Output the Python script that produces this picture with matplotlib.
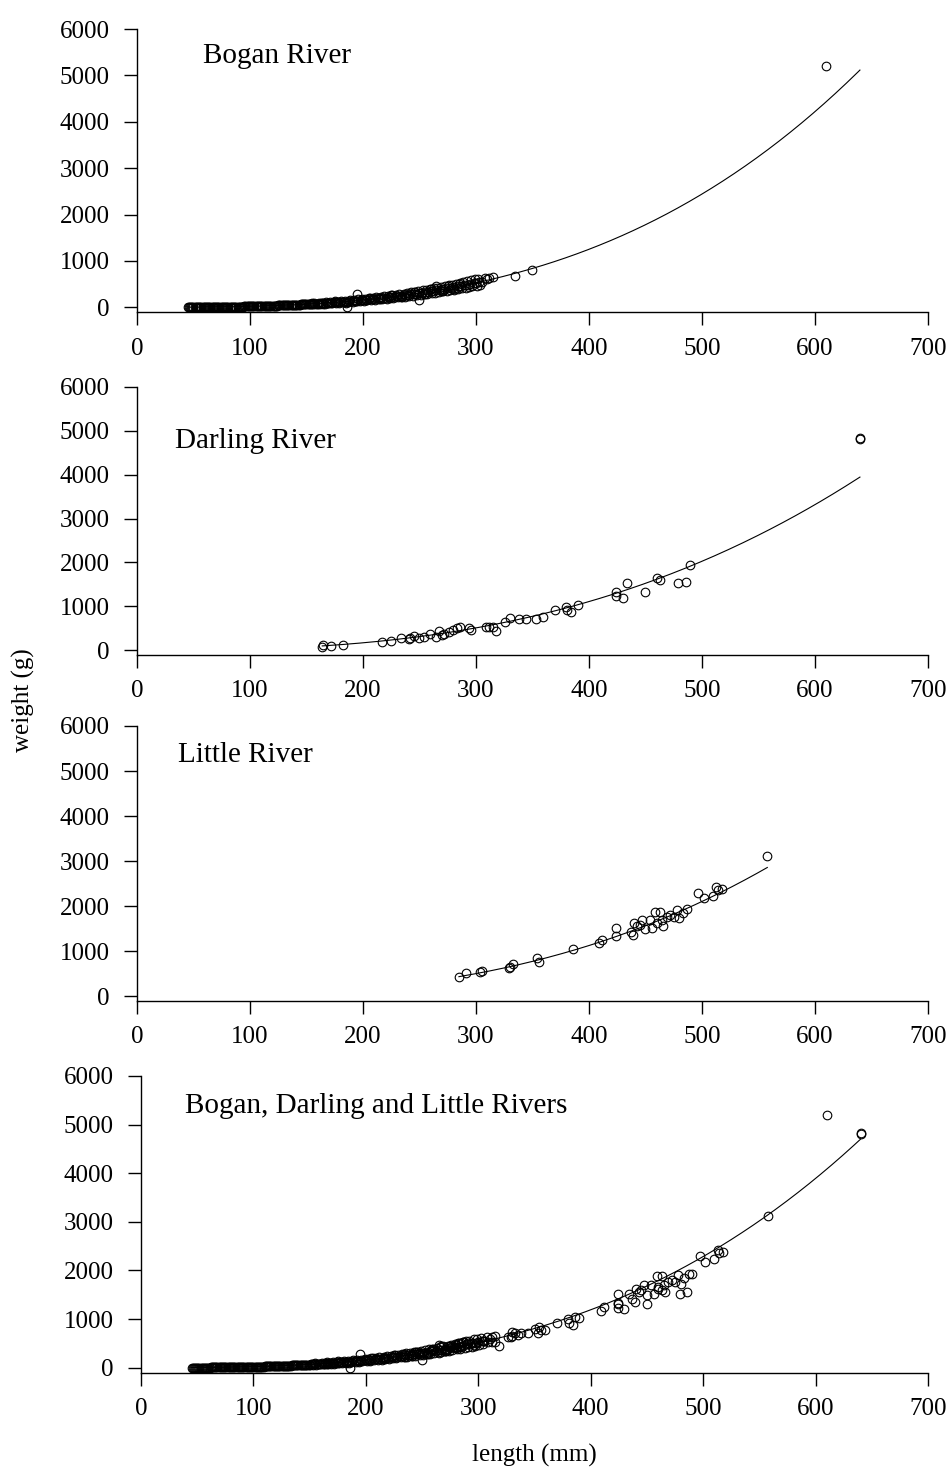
import numpy as np
import matplotlib
matplotlib.use('Agg')
import matplotlib.pyplot as plt

plt.rcParams['font.family'] = ['Liberation Serif', 'DejaVu Serif']

# Bogan River (length mm, weight g)
bogan_len = [45, 47, 49, 50, 52, 54, 55, 57, 58, 60, 62, 63, 65, 67, 68, 70, 72, 74, 75, 77,
             79, 80, 82, 84, 85, 87, 89, 90, 92, 94, 95, 97, 99, 100, 102, 104, 105, 107, 109, 110,
             112, 114, 115, 117, 119, 120, 122, 124, 125, 128, 130, 132, 135, 137, 140, 142, 145, 147, 150, 152,
             155, 158, 160, 163, 165, 168, 170, 173, 175, 178, 180, 183, 185, 186, 188, 190, 193, 195, 195, 198,
             200, 203, 205, 208, 210, 213, 215, 218, 220, 223, 225, 228, 230, 233, 235, 238, 240, 242, 245, 247,
             250, 250, 252, 255, 258, 260, 262, 265, 265, 268, 270, 272, 275, 278, 280, 283, 285, 287, 290, 293,
             295, 298, 300, 303, 305, 308, 310, 312, 315, 335, 350, 610,
             155, 165, 175, 185, 205, 215, 225, 235, 245, 255, 260, 270, 275, 280, 285,
             46, 48, 51, 53, 56, 59, 61, 64, 66, 69, 71, 73, 76, 78, 81, 83, 86, 88, 91, 93,
             96, 98, 101, 103, 106, 108, 111, 113, 116, 118, 121, 123, 126, 127, 129, 131, 133, 134, 136, 138,
             139, 141, 143, 144, 146, 148, 149, 151, 153, 154, 156, 157, 159, 161, 162, 164, 166, 167, 169, 171,
             172, 174, 176, 177, 179, 181, 182, 184, 187, 189, 191, 192, 194, 196, 197, 199, 201, 202, 204, 206,
             207, 209, 211, 212, 214, 216, 217, 219, 221, 222, 224, 226, 227, 229, 231, 232, 234, 236, 237, 239,
             241, 243, 244, 246, 248, 249, 251, 253, 254, 256, 257, 259, 261, 263, 264, 266, 267, 269, 271, 273,
             274, 276, 277, 279, 281, 282, 284, 286, 288, 289, 291, 292, 294, 296, 297, 299, 301, 302, 304]
bogan_wt = [2, 2, 3, 2, 3, 3, 4, 4, 4, 4, 5, 5, 5, 6, 6, 7, 7, 8, 8, 9,
            10, 10, 11, 12, 12, 13, 14, 14, 15, 16, 17, 18, 19, 20, 21, 22, 23, 24, 25, 26,
            27, 29, 30, 31, 33, 34, 36, 37, 38, 41, 43, 45, 48, 50, 54, 56, 60, 62, 66, 69,
            73, 77, 80, 85, 88, 93, 96, 101, 105, 110, 114, 120, 124, 2, 130, 134, 140, 145, 280, 152,
            156, 163, 168, 176, 181, 189, 194, 202, 208, 216, 222, 231, 237, 247, 253, 263, 270, 277, 287, 294,
            305, 160, 312, 323, 335, 343, 351, 363, 465, 375, 384, 392, 406, 419, 428, 420, 450, 460, 480, 490,
            500, 515, 525, 540, 555, 630, 600, 640, 660, 680, 800, 5200,
            95, 70, 130, 100, 200, 170, 260, 220, 330, 290, 390, 350, 450, 400, 500,
            2, 2, 3, 3, 3, 4, 4, 5, 6, 6, 7, 8, 9, 9, 10, 11, 12, 13, 15, 16,
            17, 18, 20, 21, 23, 25, 27, 28, 30, 32, 35, 36, 39, 40, 42, 44, 46, 47, 49, 51,
            52, 55, 57, 58, 61, 63, 65, 75, 62, 80, 66, 85, 69, 92, 73, 98, 78, 104, 83, 112,
            87, 118, 93, 124, 99, 133, 104, 140, 113, 150, 120, 158, 125, 168, 131, 176, 139, 184, 146, 195,
            152, 204, 161, 213, 168, 226, 175, 235, 185, 244, 193, 258, 200, 268, 211, 280, 220, 294, 229, 305,
            240, 322, 250, 333, 262, 346, 271, 363, 282, 376, 291, 390, 305, 408, 316, 422, 327, 437, 341, 456,
            353, 471, 365, 487, 381, 503, 393, 524, 410, 541, 422, 558, 436, 581, 450, 599, 468, 617, 482]

# Darling River
darling_len = [164, 165, 172, 182, 217, 225, 234, 241, 242, 245, 250, 254, 259, 265, 267, 270, 272, 276, 280, 283,
               286, 294, 296, 309, 312, 315, 318, 326, 330, 338, 344, 353, 359, 370, 380, 381, 384, 390, 424, 424,
               430, 434, 450, 460, 463, 479, 486, 490, 640, 640]
darling_wt = [82, 110, 103, 121, 197, 220, 273, 250, 288, 326, 273, 311, 364, 311, 447, 349, 372, 425, 460, 500,
              523, 500, 460, 538, 523, 523, 447, 637, 728, 720, 705, 720, 766, 918, 993, 918, 880, 1032, 1320, 1236,
              1198, 1525, 1320, 1653, 1600, 1525, 1562, 1935, 4826, 4810]

# Little River
little_len = [285, 291, 304, 305, 329, 330, 333, 354, 356, 386, 409, 412, 424, 424, 437, 439, 440, 443, 445, 447,
              450, 454, 456, 459, 460, 463, 465, 466, 469, 472, 475, 478, 480, 483, 487, 497, 502, 510, 513, 514,
              518, 558]
little_wt = [435, 510, 546, 560, 635, 650, 710, 843, 768, 1050, 1176, 1250, 1523, 1338, 1420, 1350, 1620, 1550, 1590, 1694,
             1490, 1694, 1510, 1880, 1620, 1880, 1694, 1550, 1770, 1800, 1770, 1915, 1730, 1840, 1930, 2300, 2175, 2230, 2420, 2360,
             2380, 3121]

# fitted W = a * L^b, drawn over [start, end]
bogan_fit = (1.951e-5, 3.0, 45, 640)
darling_fit = (1.045e-4, 2.7, 164, 640)
little_fit = (5.83e-5, 2.8, 285, 558)
all_fit = (3.007e-5, 2.92, 45, 640)

all_len = bogan_len + darling_len + little_len
all_wt = bogan_wt + darling_wt + little_wt

panels = [
    ('Bogan River', bogan_len, bogan_wt, bogan_fit, (58, 5267)),
    ('Darling River', darling_len, darling_wt, darling_fit, (34, 4598)),
    ('Little River', little_len, little_wt, little_fit, (36, 5207)),
    ('Bogan, Darling and Little Rivers', all_len, all_wt, all_fit, (39, 5235)),
]

W, H = 951, 1470
# axes boxes in pixels: left, right, top, bottom
boxes = [(137, 927.7, 29, 311.9),
         (137, 927.7, 386.7, 654.7),
         (137, 927.7, 726, 1000.8),
         (141, 928, 1076, 1372.6)]

fig = plt.figure(figsize=(W / 100, H / 100), dpi=100)

for (name, L, Wt, fit, tpos), (l, r, t, b) in zip(panels, boxes):
    ax = fig.add_axes([l / W, 1 - b / H, (r - l) / W, (b - t) / H])
    a, p, x0, x1 = fit
    xx = np.linspace(x0, x1, 300)
    ax.plot(xx, a * xx ** p, color='black', linewidth=0.8)
    ax.plot(L, Wt, linestyle='none', marker='o', markersize=6.2, markerfacecolor='none',
            markeredgecolor='black', markeredgewidth=0.8, clip_on=False)
    ax.set_xlim(0, 700)
    ax.set_ylim(-100, 6000)
    ax.set_xticks(range(0, 701, 100))
    ax.set_yticks(range(0, 6001, 1000))
    ax.spines['top'].set_visible(False)
    ax.spines['right'].set_visible(False)
    for s in ('left', 'bottom'):
        ax.spines[s].set_linewidth(1.0)
    ax.tick_params(direction='out', length=9.5, width=1.0, labelsize=18)
    ax.tick_params(axis='y', pad=10)
    ax.tick_params(axis='x', pad=9)
    ax.text(tpos[0], tpos[1], name, fontsize=21, va='baseline', ha='left')

fig.text(23 / W, 1 - 700 / H, 'weight (g)', rotation=90, fontsize=18, ha='center', va='center')
fig.text(534 / W, 1 - 1455 / H, 'length (mm)', fontsize=18, ha='center', va='center')

fig.savefig('out.png', dpi=100)
